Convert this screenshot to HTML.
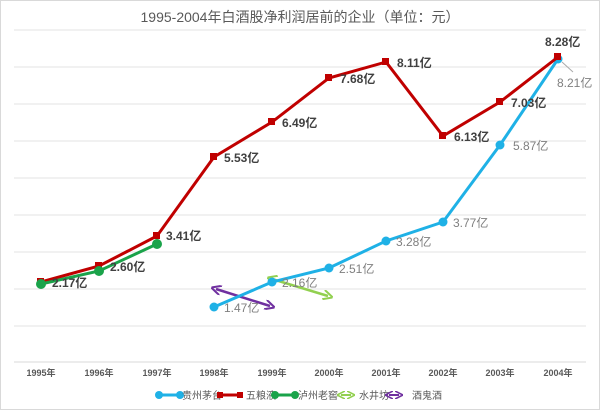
<!DOCTYPE html>
<html><head><meta charset="utf-8"><style>
body{margin:0;background:#fff}
svg{display:block}
text{font-family:"Liberation Sans","Noto Sans CJK SC",sans-serif}
</style></head><body>
<svg width="600" height="410" xmlns="http://www.w3.org/2000/svg">
<defs>
<marker id="ag" viewBox="0 0 10 10" refX="5" refY="5" markerWidth="4" markerHeight="4" orient="auto-start-reverse"><path d="M0,0 L10,5 L0,10" fill="none" stroke="#92d050" stroke-width="2"/></marker>
<marker id="ap" viewBox="0 0 10 10" refX="5" refY="5" markerWidth="4" markerHeight="4" orient="auto-start-reverse"><path d="M0,0 L10,5 L0,10" fill="none" stroke="#7030a0" stroke-width="2"/></marker>
</defs>
<rect x="0.5" y="0.5" width="599" height="409" fill="#fff" stroke="#d9d9d9"/>
<text x="300" y="22" text-anchor="middle" font-size="14" fill="#595959">1995-2004年白酒股净利润居前的企业（单位：元）</text>
<g stroke="#e3e3e3" stroke-width="1">
<line x1="14" x2="586" y1="30" y2="30"/><line x1="14" x2="586" y1="67" y2="67"/><line x1="14" x2="586" y1="104" y2="104"/><line x1="14" x2="586" y1="141" y2="141"/><line x1="14" x2="586" y1="178" y2="178"/><line x1="14" x2="586" y1="215" y2="215"/><line x1="14" x2="586" y1="252" y2="252"/><line x1="14" x2="586" y1="289" y2="289"/><line x1="14" x2="586" y1="326" y2="326"/></g>
<line x1="14" x2="586" y1="362" y2="362" stroke="#d9d9d9"/>
<g font-size="9" font-weight="bold" fill="#595959" text-anchor="middle">
<text x="41" y="376">1995年</text><text x="99" y="376">1996年</text><text x="157" y="376">1997年</text><text x="214" y="376">1998年</text><text x="272" y="376">1999年</text><text x="329" y="376">2000年</text><text x="386" y="376">2001年</text><text x="443" y="376">2002年</text><text x="500" y="376">2003年</text><text x="558" y="376">2004年</text></g>
<line x1="272" y1="279" x2="328" y2="296" stroke="#92d050" stroke-width="2.5" marker-start="url(#ag)" marker-end="url(#ag)"/>
<line x1="216" y1="289" x2="270" y2="306" stroke="#7030a0" stroke-width="2.5" marker-start="url(#ap)" marker-end="url(#ap)"/>
<polyline fill="none" stroke="#1fb1e6" stroke-width="3" points="214,307 272,282 329,268 386,241 443,222 500,145 558,59"/>
<g fill="#1fb1e6"><circle cx="214" cy="307" r="4.5"/><circle cx="272" cy="282" r="4.5"/><circle cx="329" cy="268" r="4.5"/><circle cx="386" cy="241" r="4.5"/><circle cx="443" cy="222" r="4.5"/><circle cx="500" cy="145" r="4.5"/><circle cx="558" cy="59" r="4.5"/></g>
<polyline fill="none" stroke="#c00000" stroke-width="3" points="41,282 99,266 157,236 214,157 272,122 329,78 386,62 443,136 500,102 558,57"/>
<g fill="#c00000"><rect x="37" y="278" width="7" height="7"/><rect x="95" y="262" width="7" height="7"/><rect x="153" y="232" width="7" height="7"/><rect x="210" y="153" width="7" height="7"/><rect x="268" y="118" width="7" height="7"/><rect x="325" y="74" width="7" height="7"/><rect x="382" y="58" width="7" height="7"/><rect x="439" y="132" width="7" height="7"/><rect x="496" y="98" width="7" height="7"/><rect x="554" y="53" width="7" height="7"/></g>
<polyline fill="none" stroke="#1aa34a" stroke-width="3" points="41,284 99,271 157,244"/>
<g fill="#1aa34a"><circle cx="41" cy="284" r="5"/><circle cx="99" cy="271" r="5"/><circle cx="157" cy="244" r="5"/></g>
<line x1="562" y1="62" x2="573" y2="72" stroke="#aaa"/>
<g font-size="12" font-weight="bold" fill="#404040">
<text x="52" y="287">2.17亿</text><text x="110" y="271">2.60亿</text><text x="166" y="240">3.41亿</text><text x="224" y="162">5.53亿</text><text x="282" y="127">6.49亿</text><text x="340" y="83">7.68亿</text><text x="397" y="67">8.11亿</text><text x="454" y="141">6.13亿</text><text x="511" y="107">7.03亿</text><text x="545" y="46">8.28亿</text></g>
<g font-size="12" fill="#7f7f7f">
<text x="224" y="312">1.47亿</text><text x="282" y="287">2.16亿</text><text x="339" y="273">2.51亿</text><text x="396" y="246">3.28亿</text><text x="453" y="227">3.77亿</text><text x="513" y="150">5.87亿</text><text x="557" y="87">8.21亿</text></g>
<g font-size="10" fill="#595959">
<line x1="159" y1="395" x2="180" y2="395" stroke="#1fb1e6" stroke-width="3"/><circle cx="159" cy="395" r="4" fill="#1fb1e6"/><circle cx="180" cy="395" r="4" fill="#1fb1e6"/><text x="182" y="399">贵州茅台</text>
<line x1="220" y1="395" x2="240" y2="395" stroke="#c00000" stroke-width="3"/><rect x="217" y="392" width="6" height="6" fill="#c00000"/><rect x="237" y="392" width="6" height="6" fill="#c00000"/><text x="246" y="399">五粮液</text>
<line x1="275" y1="395" x2="295" y2="395" stroke="#1aa34a" stroke-width="3"/><circle cx="275" cy="395" r="4" fill="#1aa34a"/><circle cx="295" cy="395" r="4" fill="#1aa34a"/><text x="298" y="399">泸州老窖</text>
<line x1="341" y1="395" x2="351" y2="395" stroke="#92d050" stroke-width="2" marker-start="url(#ag)" marker-end="url(#ag)"/><text x="359" y="399">水井坊</text>
<line x1="389" y1="395" x2="399" y2="395" stroke="#7030a0" stroke-width="2" marker-start="url(#ap)" marker-end="url(#ap)"/><text x="412" y="399">酒鬼酒</text>
</g>
</svg>
</body></html>
